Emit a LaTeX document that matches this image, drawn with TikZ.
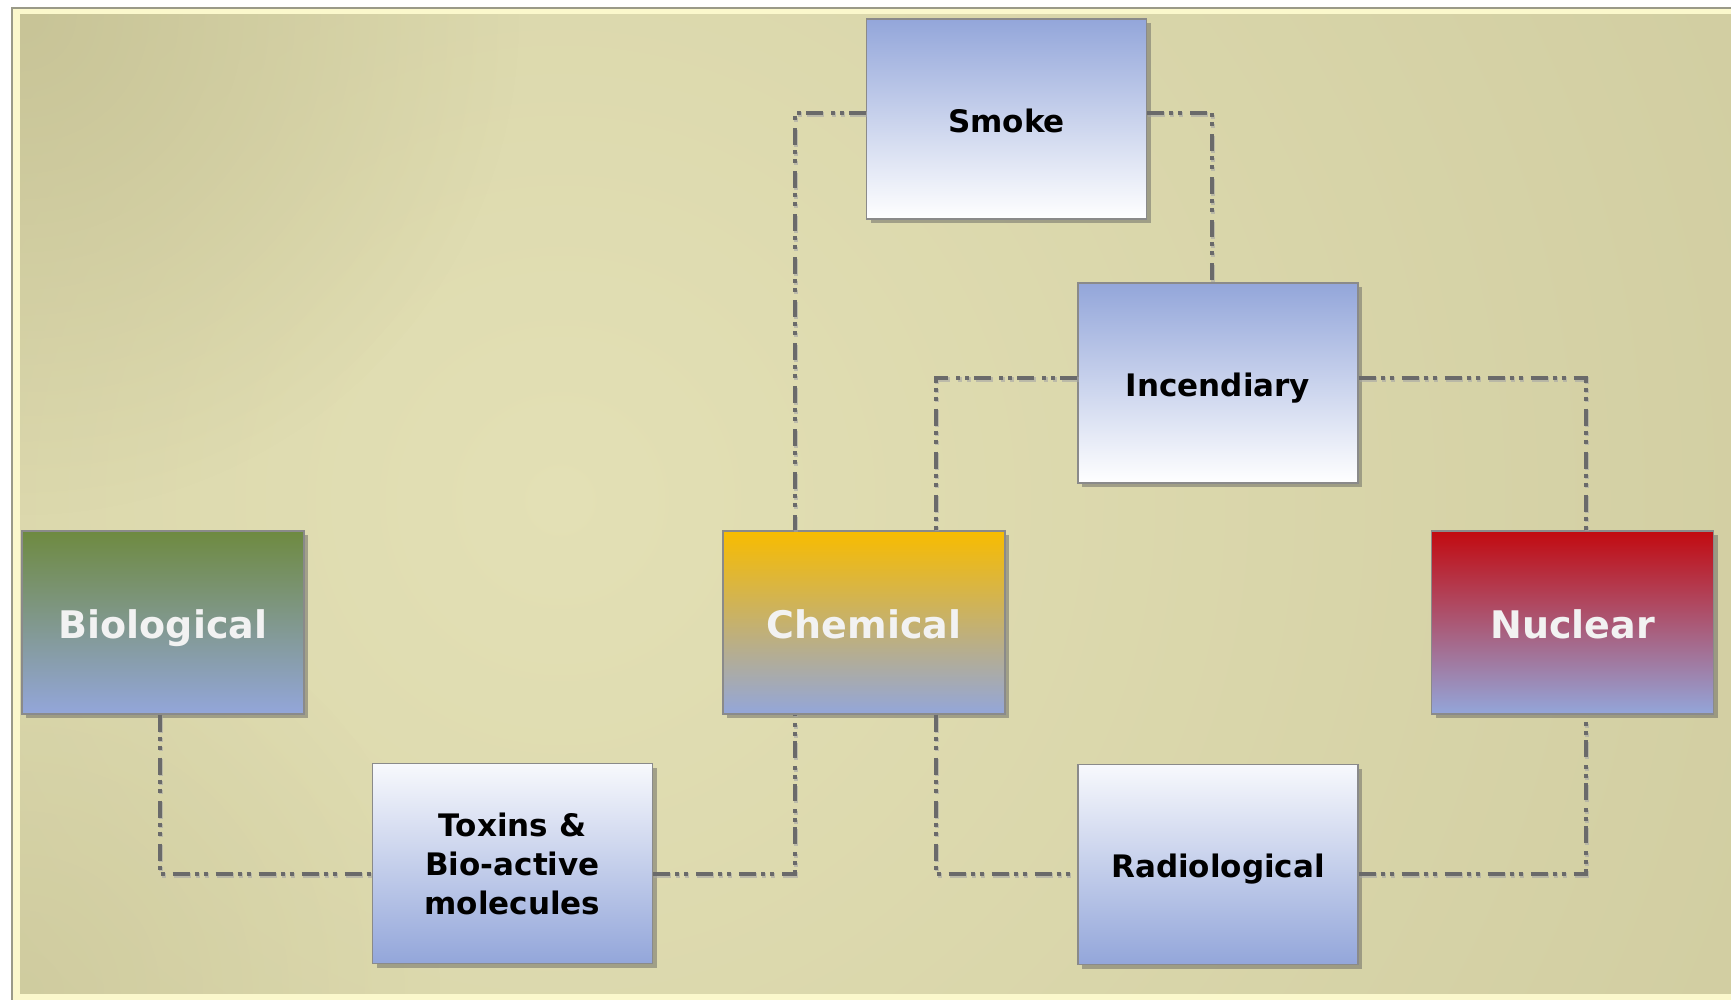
\documentclass[tikz,border=0pt]{standalone}
\usepackage{fontspec}
\setmainfont{DejaVu Sans}
\usetikzlibrary{shadows,calc,fadings}
\definecolor{bglight}{HTML}{E3E0B5}
\definecolor{bgdark}{HTML}{C6C295}
\definecolor{strip}{HTML}{FBF8CC}
\definecolor{frame}{HTML}{9A9A88}
\definecolor{boxborder}{HTML}{8A8A8A}
\definecolor{lblue}{HTML}{93A6DA}
\definecolor{olive}{HTML}{6E8A40}
\definecolor{amber}{HTML}{F8BC00}
\definecolor{crimson}{HTML}{C20A10}
\definecolor{conn}{HTML}{6A6A6A}
\definecolor{wtext}{HTML}{F2F2F2}
\tikzfading[name=cornerfade, inner color=transparent!0, outer color=transparent!100]
\tikzset{
  boxnode/.style={rectangle, draw=boxborder, line width=0.6pt,
    drop shadow={shadow xshift=2pt, shadow yshift=-2pt, opacity=0.45, fill=black!65},
    align=center, inner sep=0pt, minimum width=140pt},
  blueline/.style={text height=13.2pt, text depth=0pt},
  bluedown/.style={boxnode, blueline, top color=lblue, bottom color=white, minimum height=100pt,
    font=\bfseries\fontsize{15.5}{19.5}\selectfont},
  blueup/.style={boxnode, top color=white!93!lblue, bottom color=lblue, minimum height=100pt,
    font=\bfseries\fontsize{15.5}{19.5}\selectfont},
  colbox/.style={boxnode, text height=16pt, text depth=0pt, bottom color=lblue,
    minimum width=141pt, minimum height=91.5pt,
    text=wtext, font=\bfseries\fontsize{19}{23}\selectfont},
  linkshadow/.style={draw=black!35, line width=2.2pt, opacity=0.6,
    dash pattern=on 8.5pt off 2.5pt on 2pt off 2.5pt on 2pt off 4pt},
  linkline/.style={draw=conn, line width=2.2pt,
    dash pattern=on 8.5pt off 2.5pt on 2pt off 2.5pt on 2pt off 4pt}
}
\newcommand{\drawlinks}[1]{%
  \draw[#1] ([yshift=3pt]smoke.west) -| ([xshift=-34.5pt]chem.north);
  \draw[#1] ([yshift=3pt]smoke.east) -| ([xshift=-3pt]inc.north);
  \draw[#1] ([yshift=2.5pt]inc.west) -| ([xshift=36pt]chem.north);
  \draw[#1] ([yshift=2.5pt]inc.east) -| ([xshift=6.75pt]nuc.north);
  \draw[#1] ([xshift=-1.5pt]bio.south) |- ([yshift=-5.25pt]tox.west);
  \draw[#1] ([yshift=-5.25pt]tox.east) -| ([xshift=-34.5pt]chem.south);
  \draw[#1] ([xshift=36pt]chem.south) |- ([yshift=-4.75pt]rad.west);
  \draw[#1] ([yshift=-4.75pt]rad.east) -| ([xshift=6.75pt]nuc.south);
}
\begin{document}
\begin{tikzpicture}[x=0.5pt,y=-0.5pt]
\useasboundingbox (0,0) rectangle (1731,1000);
% background frame
\fill[white] (0,0) rectangle (1731,1000);
\fill[frame] (11,7) rectangle (1731,1000);
\fill[strip] (13,9) rectangle (1731,1000);
\begin{scope}
\clip (20,15) rectangle (1731,993);
\fill[bgdark] (20,15) rectangle (1731,993);
\shade[inner color=bglight, outer color=bgdark] (560,500) circle (2100);
\fill[bgdark, opacity=0.9, path fading=cornerfade] (20,15) circle (500);
\fill[bgdark, opacity=0.5, path fading=cornerfade] (20,993) circle (420);
\end{scope}
% nodes
\node[bluedown] (smoke) at (1006.5,119) {Smoke};
\node[bluedown] (inc) at (1218,383) {Incendiary};
\node[colbox, top color=olive] (bio) at (163,622.5) {Biological};
\node[colbox, top color=amber] (chem) at (864,622.5) {Chemical};
\node[colbox, top color=crimson] (nuc) at (1572.5,622.5) {Nuclear};
\node[blueup] (tox) at (512.5,863.5) {Toxins \&\\Bio-active\\molecules};
\node[blueup, blueline] (rad) at (1218,864.5) {Radiological};
% connectors (shadow, then line)
\begin{scope}[transform canvas={xshift=0.6pt,yshift=-0.8pt}]
\drawlinks{linkshadow}
\end{scope}
\drawlinks{linkline}
\end{tikzpicture}
\end{document}
